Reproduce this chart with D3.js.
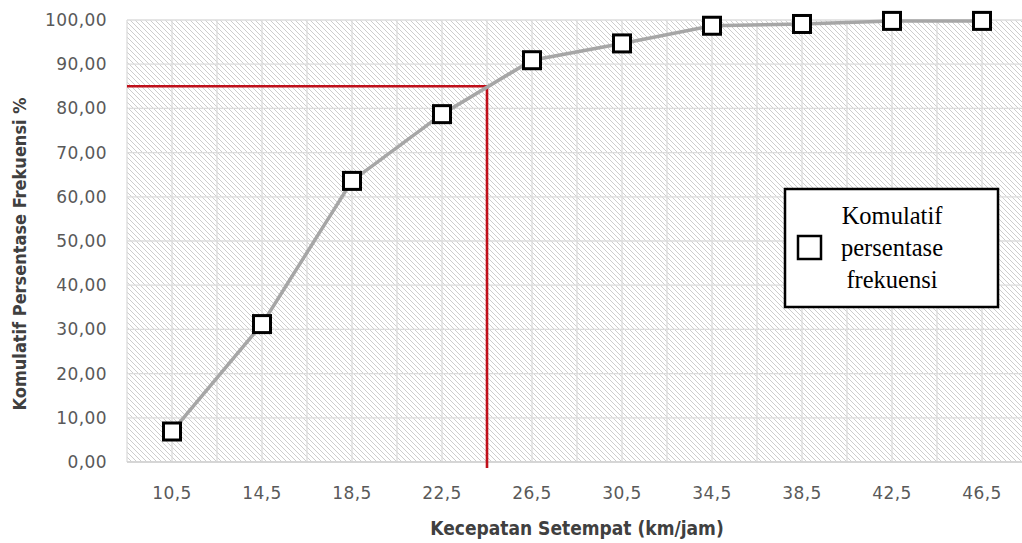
<!DOCTYPE html>
<html>
<head>
<meta charset="utf-8">
<script src="https://cdn.jsdelivr.net/npm/d3@7/dist/d3.min.js"></script>
<style>
  html, body { margin: 0; padding: 0; background: #fff; }
  svg { display: block; }
</style>
</head>
<body>
<svg id="chart" width="1022" height="543"></svg>
<script>
// Speed class midpoints (km/jam) and cumulative frequency percentage
const speeds = [10.5, 14.5, 18.5, 22.5, 26.5, 30.5, 34.5, 38.5, 42.5, 46.5];
const cumulativePct = [6.9, 31.2, 63.6, 78.7, 90.9, 94.7, 98.7, 99.1, 99.8, 99.8];
const yTicks = [0, 10, 20, 30, 40, 50, 60, 70, 80, 90, 100];
// 85th percentile reference
const p85Pct = [85];
const p85Speed = [24.5];
const legendLines = ["Komulatif", "persentase", "frekuensi"];

const svg = d3.select("#chart");
const margin = { left: 127, right: -5, top: 20, bottom: 81 };
const W = 1022, H = 543;
const plotW = W - margin.left - margin.right;
const plotH = H - margin.top - margin.bottom;

const fmtComma = (d, p) => d3.format("." + p + "f")(d).replace(".", ",");

const x = d3.scaleBand().domain(speeds).range([margin.left, margin.left + plotW]).padding(0);
const bw = x.bandwidth();
const xc = d => x(d) + bw / 2;
// continuous speed axis through the category centres, for the reference line
const xLin = d3.scaleLinear()
  .domain([speeds[0], speeds[speeds.length - 1]])
  .range([xc(speeds[0]), xc(speeds[speeds.length - 1])]);
const y = d3.scaleLinear().domain([0, 100]).range([margin.top + plotH, margin.top]);

// hatched plot background
const defs = svg.append("defs");
const pat = defs.append("pattern")
  .attr("id", "hatch").attr("patternUnits", "userSpaceOnUse")
  .attr("width", 5).attr("height", 5);
pat.append("rect").attr("width", 5).attr("height", 5).attr("fill", "#ffffff");
pat.append("path")
  .attr("d", "M-1,-1 L6,6 M-1,4 L1,6 M4,-1 L6,1")
  .attr("stroke", "#cdcdcd").attr("stroke-width", 1);

svg.append("rect")
  .attr("x", margin.left).attr("y", margin.top)
  .attr("width", plotW).attr("height", plotH)
  .attr("fill", "url(#hatch)");

// gridlines: horizontal at each y tick, vertical at band edges and centres
const grid = svg.append("g").attr("stroke", "#dcdcdc").attr("stroke-width", 1.3);
grid.selectAll(".h").data(yTicks).join("line")
  .attr("x1", margin.left).attr("x2", margin.left + plotW)
  .attr("y1", d => y(d)).attr("y2", d => y(d));
const vPos = [];
speeds.forEach(s => { vPos.push(x(s)); vPos.push(xc(s)); });
grid.selectAll(".v").data(vPos).join("line")
  .attr("x1", d => d).attr("x2", d => d)
  .attr("y1", margin.top).attr("y2", margin.top + plotH);

// bottom axis line
svg.append("line")
  .attr("x1", margin.left).attr("x2", margin.left + plotW)
  .attr("y1", y(0)).attr("y2", y(0))
  .attr("stroke", "#d0d0d0").attr("stroke-width", 1.5);

// y axis labels
const yAxis = d3.axisLeft(y).tickValues(yTicks).tickSize(0).tickPadding(0)
  .tickFormat(d => fmtComma(d, 2));
const gy = svg.append("g").attr("transform", `translate(107,0)`).call(yAxis);
gy.select(".domain").remove();
gy.selectAll("text")
  .attr("font-family", "DejaVu Sans, Verdana, sans-serif")
  .attr("font-size", 17).attr("fill", "#595959")
  .attr("letter-spacing", 0.4);

// x axis labels
const xAxis = d3.axisBottom(x).tickSize(0).tickPadding(0).tickFormat(d => fmtComma(d, 1));
const gx = svg.append("g").attr("transform", `translate(0,${y(0) + 25})`).call(xAxis);
gx.select(".domain").remove();
gx.selectAll("text")
  .attr("font-family", "DejaVu Sans, Verdana, sans-serif")
  .attr("font-size", 17).attr("fill", "#595959")
  .attr("letter-spacing", 0.4);

// axis titles
svg.append("text")
  .attr("x", xc(speeds[0]) / 2 + xc(speeds[speeds.length - 1]) / 2)
  .attr("y", 535)
  .attr("text-anchor", "middle")
  .attr("font-family", "DejaVu Sans Condensed, DejaVu Sans, sans-serif")
  .attr("font-stretch", "condensed")
  .attr("font-weight", "bold").attr("font-size", 19).attr("fill", "#404040")
  .text("Kecepatan Setempat (km/jam)");

svg.append("text")
  .attr("transform", "translate(26,254) rotate(-90)")
  .attr("text-anchor", "middle")
  .attr("font-family", "DejaVu Sans Condensed, DejaVu Sans, sans-serif")
  .attr("font-stretch", "condensed")
  .attr("font-weight", "bold").attr("font-size", 18).attr("fill", "#404040")
  .text("Komulatif Persentase Frekuensi %");

// 85th percentile reference lines
const red = svg.append("g").attr("stroke", "#c0101a").attr("stroke-width", 2.6).attr("fill", "none");
red.append("path")
  .attr("d", `M${margin.left},${y(p85Pct[0])} H${xLin(p85Speed[0])} V${y(0) + 6}`);

// cumulative line + markers
const line = d3.line().x(d => xc(d[0])).y(d => y(d[1]));
const pts = speeds.map((s, i) => [s, cumulativePct[i]]);
svg.append("path").datum(pts)
  .attr("d", line)
  .attr("fill", "none").attr("stroke", "#a6a6a6").attr("stroke-width", 3.5);

const ms = 17;
svg.append("g").selectAll("rect").data(pts).join("rect")
  .attr("x", d => xc(d[0]) - ms / 2).attr("y", d => y(d[1]) - ms / 2)
  .attr("width", ms).attr("height", ms)
  .attr("fill", "#ffffff").attr("stroke", "#000").attr("stroke-width", 3);

// legend
const lg = svg.append("g");
lg.append("rect")
  .attr("x", 785).attr("y", 189).attr("width", 213).attr("height", 118)
  .attr("fill", "#ffffff").attr("stroke", "#000").attr("stroke-width", 2.5);
lg.append("rect")
  .attr("x", 798).attr("y", 236).attr("width", 23).attr("height", 23)
  .attr("fill", "#ffffff").attr("stroke", "#000").attr("stroke-width", 2.5);
lg.selectAll("text").data(legendLines).join("text")
  .attr("x", 892).attr("y", (d, i) => 224 + i * 32)
  .attr("text-anchor", "middle")
  .attr("font-family", "Liberation Serif, Times New Roman, serif")
  .attr("font-size", 24.5).attr("fill", "#000")
  .text(d => d);
</script>
</body>
</html>
